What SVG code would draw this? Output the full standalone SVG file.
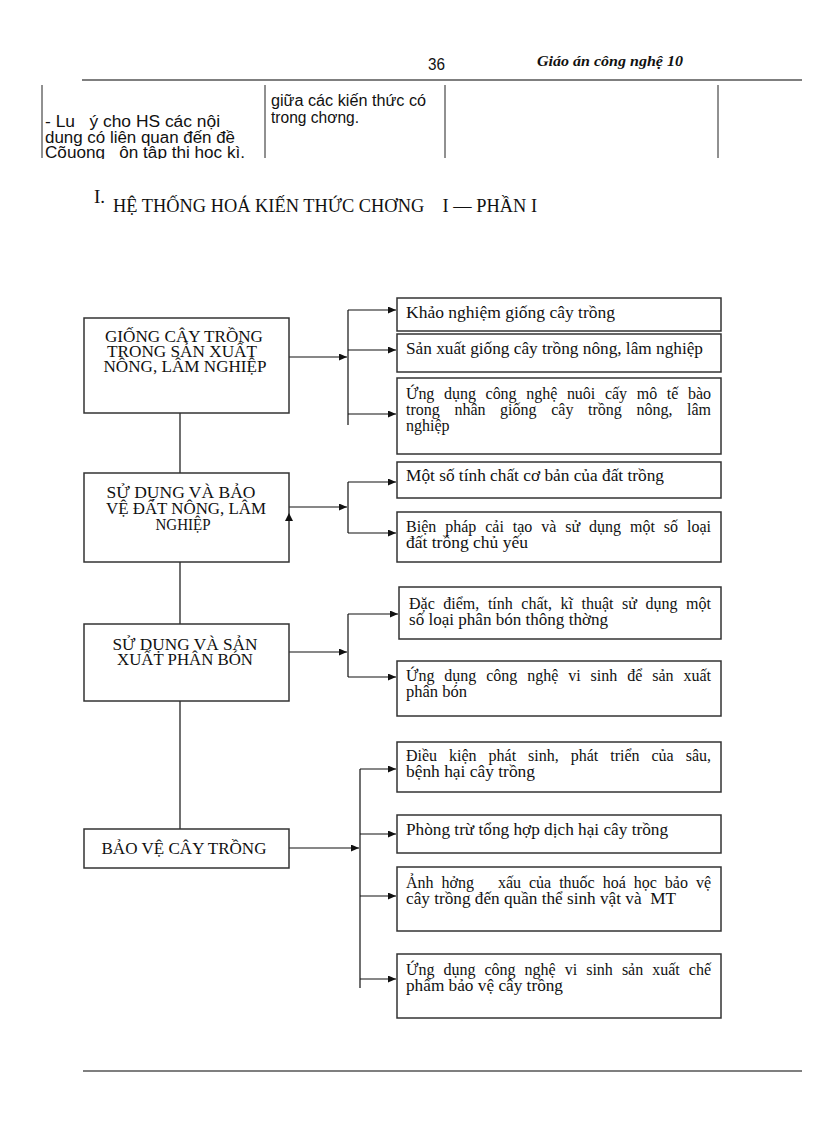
<svg xmlns="http://www.w3.org/2000/svg" width="816" height="1123" viewBox="0 0 816 1123">
<style>
.bg{fill:#fff}
.box{fill:#fff;stroke:#333;stroke-width:1.5}
.rule{stroke:#555;stroke-width:1.5;fill:none}
.tbl{stroke:#222;stroke-width:1;fill:none}
.cn{stroke:#111;stroke-width:1.2;fill:none}
.lt{font-family:"Liberation Serif","DejaVu Serif",serif;font-size:16px;fill:#111;text-anchor:middle}
.rt{font-family:"Liberation Serif","DejaVu Serif",serif;font-size:16px;fill:#111}
.sans{font-family:"Liberation Sans","DejaVu Sans",sans-serif;font-size:16px;fill:#111}
.hdr{font-family:"Liberation Serif","DejaVu Serif",serif;font-size:15px;font-style:italic;font-weight:bold;fill:#111}
.ttl{font-family:"Liberation Serif","DejaVu Serif",serif;font-size:19px;fill:#111}
</style>
<defs>
<marker id="ah" markerUnits="userSpaceOnUse" markerWidth="8" markerHeight="8" refX="8" refY="3.5" orient="auto">
<path d="M0,0 L8,3.5 L0,7 z" fill="#111"/>
</marker>
<clipPath id="tclip"><rect x="0" y="84" width="816" height="75"/></clipPath>
</defs>
<rect class="bg" x="0" y="0" width="816" height="1123"/>

<g id="header">
<text class="sans" x="428" y="70" font-size="15" textLength="17" lengthAdjust="spacingAndGlyphs">36</text>
<text class="hdr" x="537" y="66" textLength="146" lengthAdjust="spacingAndGlyphs">Giáo án công nghệ 10</text>
<line class="rule" x1="82" y1="80" x2="802" y2="80"/>
</g>

<g id="table">
<line class="tbl" x1="42" y1="85" x2="42" y2="158"/>
<line class="tbl" x1="265" y1="85" x2="265" y2="158"/>
<line class="tbl" x1="445" y1="85" x2="445" y2="158"/>
<line class="tbl" x1="718" y1="85" x2="718" y2="158"/>
<g clip-path="url(#tclip)">
<text class="sans" x="45" y="127" xml:space="preserve" textLength="175" lengthAdjust="spacingAndGlyphs">- Lu   ý cho HS các nội</text>
<text class="sans" x="45" y="143" textLength="190" lengthAdjust="spacingAndGlyphs">dung có liên quan đến đề</text>
<text class="sans" x="45" y="158" xml:space="preserve" textLength="200" lengthAdjust="spacingAndGlyphs">Cõuong   ôn tập thi học kì.</text>
<text class="sans" x="271" y="106" textLength="155" lengthAdjust="spacingAndGlyphs">giữa các kiến thức có</text>
<text class="sans" x="271" y="123" textLength="88" lengthAdjust="spacingAndGlyphs">trong chơng.</text>
</g>
</g>

<g id="title">
<text class="ttl" x="94" y="203" font-size="15">I.</text>
<text class="ttl" x="113" y="212" xml:space="preserve" textLength="424" lengthAdjust="spacingAndGlyphs">HỆ THỐNG HOÁ KIẾN THỨC CHƠNG    I — PHẦN I</text>
</g>

<g id="connectors">
<line class="cn" x1="180" y1="402" x2="180" y2="473"/>
<line class="cn" x1="180" y1="562" x2="180" y2="624"/>
<line class="cn" x1="180" y1="701" x2="180" y2="829"/>
<line class="cn" x1="289" y1="357" x2="347" y2="357" marker-end="url(#ah)"/>
<line class="cn" x1="348" y1="310" x2="348" y2="425"/>
<line class="cn" x1="348" y1="310" x2="396" y2="310" marker-end="url(#ah)"/>
<line class="cn" x1="348" y1="350" x2="396" y2="350" marker-end="url(#ah)"/>
<line class="cn" x1="348" y1="414" x2="396" y2="414" marker-end="url(#ah)"/>
<line class="cn" x1="289" y1="507" x2="347" y2="507" marker-end="url(#ah)"/>
<line class="cn" x1="348" y1="482" x2="348" y2="533"/>
<line class="cn" x1="348" y1="482" x2="396" y2="482" marker-end="url(#ah)"/>
<line class="cn" x1="348" y1="533" x2="396" y2="533" marker-end="url(#ah)"/>
<line class="cn" x1="289" y1="652" x2="347" y2="652" marker-end="url(#ah)"/>
<line class="cn" x1="348" y1="614" x2="348" y2="677"/>
<line class="cn" x1="348" y1="614" x2="398" y2="614" marker-end="url(#ah)"/>
<line class="cn" x1="348" y1="677" x2="396" y2="677" marker-end="url(#ah)"/>
<line class="cn" x1="289" y1="848" x2="359" y2="848" marker-end="url(#ah)"/>
<line class="cn" x1="360" y1="769" x2="360" y2="988"/>
<line class="cn" x1="360" y1="769" x2="396" y2="769" marker-end="url(#ah)"/>
<line class="cn" x1="360" y1="834" x2="396" y2="834" marker-end="url(#ah)"/>
<line class="cn" x1="360" y1="896" x2="396" y2="896" marker-end="url(#ah)"/>
<line class="cn" x1="360" y1="979" x2="396" y2="979" marker-end="url(#ah)"/>
</g>

<g id="b1">
<rect class="box" x="84" y="318" width="205" height="95"/>
<text class="lt" x="184" y="342" textLength="158" lengthAdjust="spacingAndGlyphs">GIỐNG CÂY TRỒNG</text>
<text class="lt" x="182" y="357" textLength="150" lengthAdjust="spacingAndGlyphs">TRONG SẢN XUẤT</text>
<text class="lt" x="185" y="372" textLength="163" lengthAdjust="spacingAndGlyphs">NÔNG, LÂM NGHIỆP</text>
</g>
<g id="b2">
<rect class="box" x="84" y="473" width="205" height="89"/>
<text class="lt" x="181" y="498" textLength="149" lengthAdjust="spacingAndGlyphs">SỬ DỤNG VÀ BẢO</text>
<text class="lt" x="186" y="514" textLength="160" lengthAdjust="spacingAndGlyphs">VỆ ĐẤT NÔNG, LÂM</text>
<text class="lt" x="183" y="530" textLength="55" lengthAdjust="spacingAndGlyphs">NGHIỆP</text>
<polygon points="289,513 285,521 293,521" fill="#111"/>
</g>
<g id="b3">
<rect class="box" x="84" y="624" width="205" height="77"/>
<text class="lt" x="185" y="650" textLength="145" lengthAdjust="spacingAndGlyphs">SỬ DỤNG VÀ SẢN</text>
<text class="lt" x="185" y="665" textLength="136" lengthAdjust="spacingAndGlyphs">XUẤT PHÂN BÓN</text>
</g>
<g id="b4">
<rect class="box" x="84" y="829" width="205" height="39"/>
<text class="lt" x="184" y="854" textLength="165" lengthAdjust="spacingAndGlyphs">BẢO VỆ CÂY TRỒNG</text>
</g>

<g id="r1">
<rect class="box" x="397" y="298" width="324" height="33"/>
<text class="rt" x="406" y="318" textLength="209" lengthAdjust="spacingAndGlyphs">Khảo nghiệm giống cây trồng</text>
</g>
<g id="r2">
<rect class="box" x="397" y="334" width="324" height="38"/>
<text class="rt" x="406" y="354" textLength="297" lengthAdjust="spacingAndGlyphs">Sản xuất giống cây trồng nông, lâm nghiệp</text>
</g>
<g id="r3">
<rect class="box" x="397" y="378" width="324" height="76"/>
<text class="rt" x="406" y="399" word-spacing="5.7" textLength="305">Ứng dụng công nghệ nuôi cấy mô tế bào</text>
<text class="rt" x="406" y="415" word-spacing="10.6" textLength="305">trong nhân giống cây trồng nông, lâm</text>
<text class="rt" x="406" y="431">nghiệp</text>
</g>
<g id="r4">
<rect class="box" x="397" y="462" width="324" height="36"/>
<text class="rt" x="406" y="481" textLength="258" lengthAdjust="spacingAndGlyphs">Một số tính chất cơ bản của đất trồng</text>
</g>
<g id="r5">
<rect class="box" x="397" y="512" width="324" height="50"/>
<text class="rt" x="406" y="532" word-spacing="4.9" textLength="305">Biện pháp cải tạo và sử dụng một số loại</text>
<text class="rt" x="406" y="548" textLength="122" lengthAdjust="spacingAndGlyphs">đất trồng chủ yếu</text>
</g>
<g id="r6">
<rect class="box" x="399" y="587" width="322" height="52"/>
<text class="rt" x="409" y="609" word-spacing="4.6" textLength="302">Đặc điểm, tính chất, kĩ thuật sử dụng một</text>
<text class="rt" x="409" y="625" textLength="199" lengthAdjust="spacingAndGlyphs">số loại phân bón thông thờng</text>
</g>
<g id="r7">
<rect class="box" x="397" y="661" width="324" height="55"/>
<text class="rt" x="406" y="681" word-spacing="6" textLength="305">Ứng dụng công nghệ vi sinh để sản xuất</text>
<text class="rt" x="406" y="697" textLength="61" lengthAdjust="spacingAndGlyphs">phân bón</text>
</g>
<g id="r8">
<rect class="box" x="397" y="742" width="324" height="50"/>
<text class="rt" x="406" y="761" word-spacing="8" textLength="305">Điều kiện phát sinh, phát triển của sâu,</text>
<text class="rt" x="406" y="777" textLength="129" lengthAdjust="spacingAndGlyphs">bệnh hại cây trồng</text>
</g>
<g id="r9">
<rect class="box" x="397" y="815" width="324" height="38"/>
<text class="rt" x="406" y="835" textLength="262" lengthAdjust="spacingAndGlyphs">Phòng trừ tổng hợp dịch hại cây trồng</text>
</g>
<g id="r10">
<rect class="box" x="397" y="867" width="324" height="64"/>
<text class="rt" x="406" y="888" xml:space="preserve" word-spacing="4" textLength="305">Ảnh hởng   xấu của thuốc hoá học bảo vệ</text>
<text class="rt" x="406" y="904" xml:space="preserve" textLength="270" lengthAdjust="spacingAndGlyphs">cây trồng đến quần thể sinh vật và  MT</text>
</g>
<g id="r11">
<rect class="box" x="397" y="954" width="324" height="64"/>
<text class="rt" x="406" y="975" word-spacing="5.1" textLength="305">Ứng dụng công nghệ vi sinh sản xuất chế</text>
<text class="rt" x="406" y="991" textLength="157" lengthAdjust="spacingAndGlyphs">phẩm bảo vệ cây trồng</text>
</g>

<g id="footer">
<line class="rule" x1="83" y1="1071" x2="802" y2="1071"/>
</g>
</svg>
